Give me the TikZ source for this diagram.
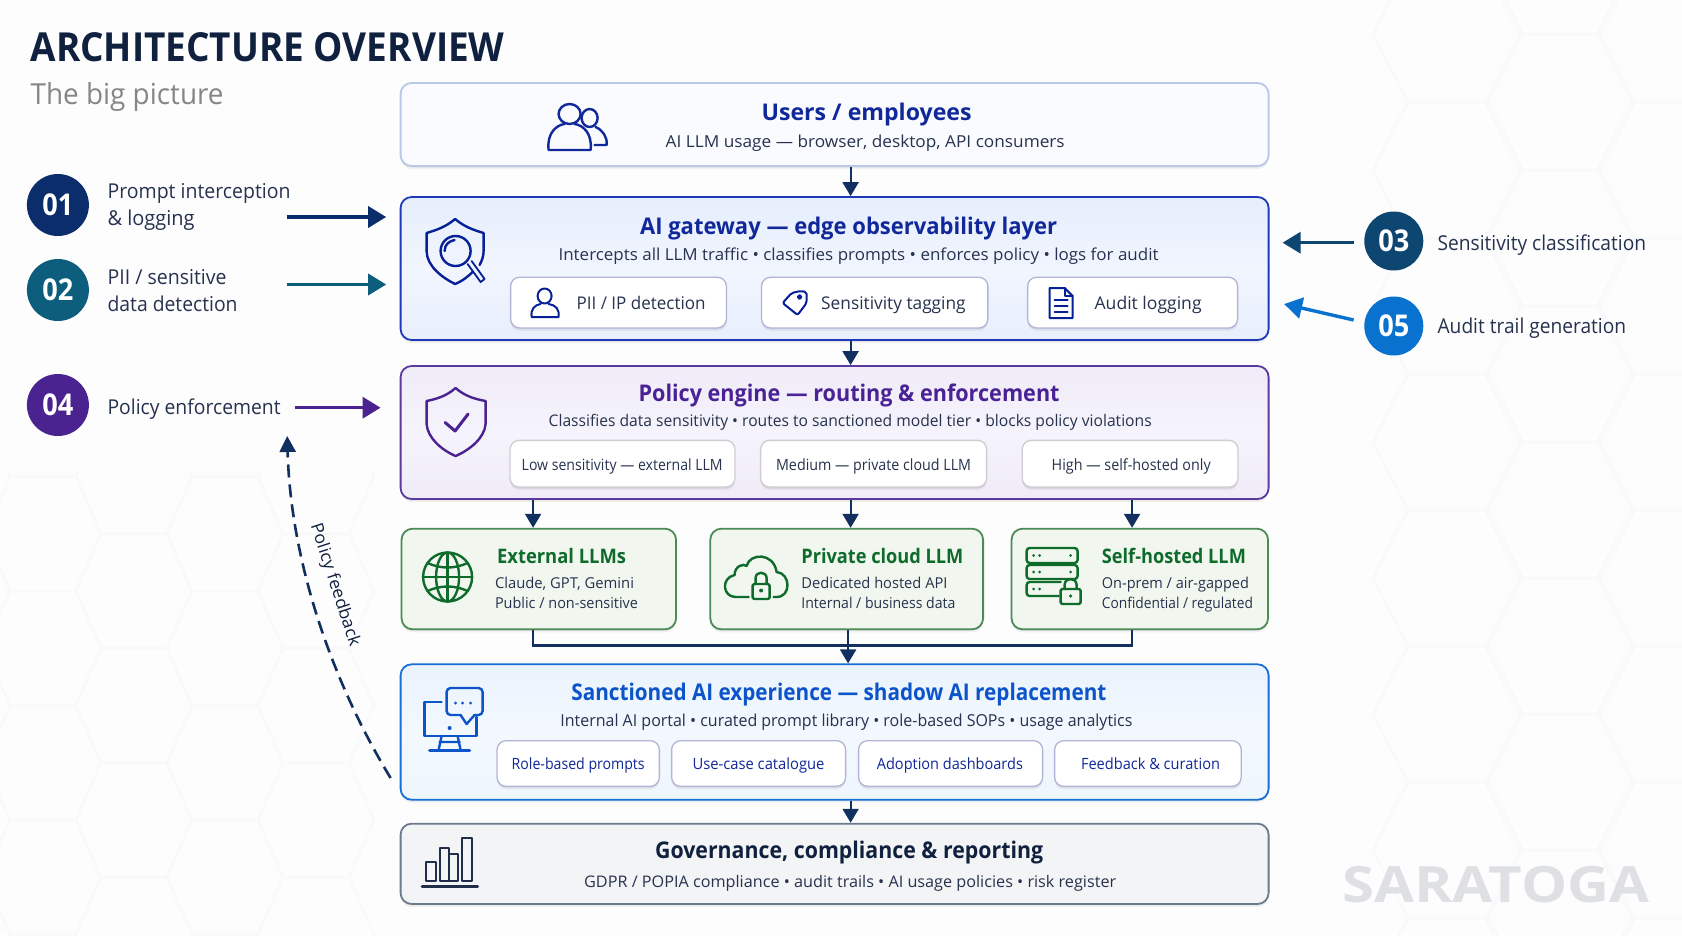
\documentclass[tikz,border=0pt]{standalone}
\usepackage{fontspec}
\usepackage{graphicx}
\setmainfont{Open Sans}
\usetikzlibrary{arrows.meta,calc}
\newcommand\fw[2]{\resizebox{#1pt}{\height}{#2}}
\newcommand\fs[1]{\fontsize{#1}{#1}\selectfont}
\definecolor{bgc}{HTML}{FDFDFE}
\definecolor{hexc}{HTML}{F8F9FB}
\definecolor{navy}{HTML}{12305F}
\definecolor{ttlblue}{HTML}{10289A}
\definecolor{ttlpur}{HTML}{4A2296}
\definecolor{ttlgrn}{HTML}{0E6B2C}
\definecolor{ttlsky}{HTML}{0B54C9}
\definecolor{ttlgov}{HTML}{10203F}
\definecolor{subt}{HTML}{26324E}
\definecolor{c1}{HTML}{0C2D6B}
\definecolor{c2}{HTML}{0C5E7C}
\definecolor{c3}{HTML}{0E4672}
\definecolor{c4}{HTML}{4A2391}
\definecolor{c5}{HTML}{0872CE}
\tikzset{
  softshadow/.style={preaction={fill=black,draw=none,opacity=.05,transform canvas={yshift=-3pt}},
                     preaction={fill=black,draw=none,opacity=.06,transform canvas={yshift=-1.5pt}}},
  panel/.style={rectangle,rounded corners=11pt,inner sep=0pt,line width=1.8pt,softshadow},
  subbox/.style={rectangle,rounded corners=9pt,inner sep=0pt,fill=white,draw=#1,line width=1.3pt,softshadow},
  tx/.style={inner sep=0pt,outer sep=0pt,text=subt},
  badge/.style={circle,inner sep=0pt,minimum size=#1,text=white,font=\fs{30}\bfseries},
  flow/.style={draw=navy,line width=2.2pt,-{Triangle[length=14pt,width=16pt]}},
  bus/.style={draw=navy,line width=2.4pt},
  side/.style={line width=3.4pt,-{Triangle[length=18pt,width=21pt]}},
  ico/.style={line width=2.4pt,line join=round,line cap=round},
}
\begin{document}
\begin{tikzpicture}[x=1pt,y=-1pt]
\useasboundingbox (0,0) rectangle (1682,935);
\fill[bgc] (0,0) rectangle (1682,935);
% faint hexagon background
\begin{scope}
\clip (1360,0) rectangle (1682,935);
\foreach \i in {0,1,2} \foreach \j in {-1,...,7} {
  \pgfmathsetmacro\cx{1448+112*\i}
  \pgfmathsetmacro\cy{170+136*\j+(mod(\i,2)==1?-68:0)}
  \draw[hexc,line width=2pt] (\cx-75,\cy) -- (\cx-40,\cy-68) -- (\cx+40,\cy-68) -- (\cx+75,\cy) -- (\cx+40,\cy+68) -- (\cx-40,\cy+68) -- cycle;
}
\end{scope}
\begin{scope}
\clip (0,470) rectangle (398,935);
\foreach \i in {0,1,2,3} \foreach \j in {-1,...,4} {
  \pgfmathsetmacro\cx{43+91*\i}
  \pgfmathsetmacro\cy{591+114.5*\j+(mod(\i,2)==0?-57.25:0)}
  \draw[hexc,line width=2pt] (\cx-58,\cy) -- (\cx-33,\cy-57.25) -- (\cx+33,\cy-57.25) -- (\cx+58,\cy) -- (\cx+33,\cy+57.25) -- (\cx-33,\cy+57.25) -- cycle;
}
\end{scope}
\begin{scope}[shift={(0.6,1)}]
% heading
\node[tx,anchor=base west,text=ttlgov,font=\fs{40}\bfseries] (ttl) at (30,60) {\fw{474}{ARCHITECTURE OVERVIEW}};
\node[tx,anchor=base west,text=gray!95,font=\fs{29}] (subttl) at (30,103) {\fw{193}{The big picture}};
% panels
\node[panel,draw={rgb,255:red,184;green,200;blue,230},fill={rgb,255:red,250;green,251;blue,254},minimum width=868pt,minimum height=83pt] (users) at (834,123.5) {};
\node[panel,draw={rgb,255:red,30;green,58;blue,184},top color={rgb,255:red,230;green,238;blue,252},bottom color={rgb,255:red,232;green,239;blue,252},middle color={rgb,255:red,241;green,245;blue,254},minimum width=868pt,minimum height=143pt] (gate) at (834,267.5) {};
\node[panel,draw={rgb,255:red,91;green,58;blue,158},top color={rgb,255:red,239;green,236;blue,248},bottom color={rgb,255:red,239;green,236;blue,248},middle color={rgb,255:red,245;green,243;blue,251},minimum width=868pt,minimum height=133pt] (pol) at (834,431.5) {};
\node[panel,draw={rgb,255:red,75;green,139;blue,87},fill={rgb,255:red,241;green,247;blue,238},minimum width=274.5pt,minimum height=100.6pt] (ext) at (538.2,578) {};
\node[panel,draw={rgb,255:red,75;green,139;blue,87},fill={rgb,255:red,241;green,247;blue,238},minimum width=272.8pt,minimum height=100.6pt] (priv) at (846.1,578) {};
\node[panel,draw={rgb,255:red,75;green,139;blue,87},fill={rgb,255:red,241;green,247;blue,238},minimum width=256.5pt,minimum height=100.6pt] (selfh) at (1139.2,578) {};
\node[panel,draw={rgb,255:red,26;green,111;blue,214},top color={rgb,255:red,234;green,243;blue,254},bottom color={rgb,255:red,238;green,246;blue,254},middle color={rgb,255:red,243;green,248;blue,254},minimum width=868pt,minimum height=135.4pt] (sanct) at (834,731) {};
\node[panel,draw={rgb,255:red,107;green,122;blue,140},fill={rgb,255:red,243;green,244;blue,246},minimum width=868pt,minimum height=80.3pt] (gov) at (834,862.8) {};
% sub boxes
\colorlet{sbl}{blue!30!gray!45!white}
\node[subbox=sbl,minimum width=215.8pt,minimum height=50.7pt] (s1) at (617.9,301.6) {};
\node[subbox=sbl,minimum width=226.3pt,minimum height=50.7pt] (s2) at (874.1,301.6) {};
\node[subbox=sbl,minimum width=210pt,minimum height=50.7pt] (s3) at (1132,301.6) {};
\colorlet{sbg}{violet!15!gray!35!white}
\node[subbox=sbg,minimum width=224.9pt,minimum height=46.7pt] (p1) at (621.9,462.7) {};
\node[subbox=sbg,minimum width=226pt,minimum height=46.7pt] (p2) at (873,462.7) {};
\node[subbox=sbg,minimum width=215.8pt,minimum height=46.7pt] (p3) at (1129.5,462.7) {};
\node[subbox=sbl,minimum width=162.3pt,minimum height=45.6pt] (r1) at (577.6,762.5) {};
\node[subbox=sbl,minimum width=174pt,minimum height=45.6pt] (r2) at (758,762.5) {};
\node[subbox=sbl,minimum width=184pt,minimum height=45.6pt] (r3) at (950,762.5) {};
\node[subbox=sbl,minimum width=186.6pt,minimum height=45.6pt] (r4) at (1147.3,762.5) {};
% panel texts
\node[tx,anchor=base,text=ttlblue,font=\fs{23}\bfseries] (t1) at (866,119) {\fw{210}{Users / employees}};
\node[tx,anchor=base,font=\fs{16.5}] (t1b) at (864.6,146.7) {\fw{399}{AI LLM usage — browser, desktop, API consumers}};
\node[tx,anchor=base,text=ttlblue,font=\fs{23}\bfseries] (t2) at (848,233) {\fw{417}{AI gateway — edge observability layer}};
\node[tx,anchor=base,font=\fs{16.5}] (t2b) at (858,259) {\fw{600}{Intercepts all LLM traffic • classifies prompts • enforces policy • logs for audit}};
\node[tx,anchor=base west,font=\fs{17.5}] (s1t) at (576,308) {\fw{129}{PII / IP detection}};
\node[tx,anchor=base west,font=\fs{17.5}] (s2t) at (820.6,308) {\fw{144.5}{Sensitivity tagging}};
\node[tx,anchor=base west,font=\fs{17.5}] (s3t) at (1094,308) {\fw{107}{Audit logging}};
\node[tx,anchor=base,text=ttlpur,font=\fs{23}\bfseries] (t3) at (848.5,400) {\fw{421}{Policy engine — routing \& enforcement}};
\node[tx,anchor=base,font=\fs{16}] (t3b) at (849.6,425) {\fw{603}{Classifies data sensitivity • routes to sanctioned model tier • blocks policy violations}};
\node[tx,anchor=base,font=\fs{15.5}] (p1t) at (621.6,469) {\fw{201}{Low sensitivity — external LLM}};
\node[tx,anchor=base,font=\fs{15.5}] (p2t) at (873,469) {\fw{195}{Medium — private cloud LLM}};
\node[tx,anchor=base,font=\fs{15.5}] (p3t) at (1130.6,469) {\fw{159}{High — self-hosted only}};
\node[tx,anchor=base west,text=ttlgrn,font=\fs{20}\bfseries] (e1) at (496.5,562) {\fw{129}{External LLMs}};
\node[tx,anchor=base west,font=\fs{15}] (e2) at (494.4,587) {\fw{139}{Claude, GPT, Gemini}};
\node[tx,anchor=base west,font=\fs{15}] (e3) at (494.4,607.7) {\fw{143}{Public / non-sensitive}};
\node[tx,anchor=base west,text=ttlgrn,font=\fs{20}\bfseries] (f1) at (800.8,562) {\fw{162}{Private cloud LLM}};
\node[tx,anchor=base west,font=\fs{15}] (f2) at (800.8,587) {\fw{146}{Dedicated hosted API}};
\node[tx,anchor=base west,font=\fs{15}] (f3) at (800.8,607.7) {\fw{154}{Internal / business data}};
\node[tx,anchor=base west,text=ttlgrn,font=\fs{20}\bfseries] (g1) at (1101.3,562) {\fw{144}{Self-hosted LLM}};
\node[tx,anchor=base west,font=\fs{15}] (g2) at (1101.3,587) {\fw{147}{On-prem / air-gapped}};
\node[tx,anchor=base west,font=\fs{15}] (g3) at (1101.3,607) {\fw{151}{Confidential / regulated}};
\node[tx,anchor=base,text=ttlsky,font=\fs{23}\bfseries] (t4) at (838.3,699) {\fw{535}{Sanctioned AI experience — shadow AI replacement}};
\node[tx,anchor=base,font=\fs{16.5}] (t4b) at (845.8,725.7) {\fw{572}{Internal AI portal • curated prompt library • role-based SOPs • usage analytics}};
\node[tx,anchor=base,text=ttlblue,font=\fs{15.5}] (r1t) at (577.6,768) {\fw{133}{Role-based prompts}};
\node[tx,anchor=base,text=ttlblue,font=\fs{15.5}] (r2t) at (757.9,768) {\fw{132}{Use-case catalogue}};
\node[tx,anchor=base,text=ttlblue,font=\fs{15.5}] (r3t) at (949.3,768) {\fw{146}{Adoption dashboards}};
\node[tx,anchor=base,text=ttlblue,font=\fs{15.5}] (r4t) at (1149.9,768) {\fw{139}{Feedback \& curation}};
\node[tx,anchor=base,text=ttlgov,font=\fs{23}\bfseries] (t5) at (848.5,857.3) {\fw{388}{Governance, compliance \& reporting}};
\node[tx,anchor=base,font=\fs{16}] (t5b) at (849.6,886.7) {\fw{532}{GDPR / POPIA compliance • audit trails • AI usage policies • risk register}};
\node[tx,anchor=base west,text={rgb,255:red,222;green,224;blue,227},font=\fs{50}\bfseries] (mark) at (1342,901) {\fw{307}{SARATOGA}};
% badges and labels
\node[badge=62pt,fill=c1] (b1) at (57.3,204) {\fw{31}{01}};
\node[badge=62pt,fill=c2] (b2) at (57.3,289) {\fw{31}{02}};
\node[badge=62pt,fill=c4] (b4) at (57.3,404) {\fw{31}{04}};
\node[badge=59pt,fill=c3] (b3) at (1393.2,240) {\fw{31}{03}};
\node[badge=59pt,fill=c5] (b5) at (1393.2,325) {\fw{31}{05}};
\node[tx,anchor=base west,font=\fs{20.5}] (l1a) at (107,197) {\fw{183}{Prompt interception}};
\node[tx,anchor=base west,font=\fs{20.5}] (l1b) at (107,224) {\fw{87}{\& logging}};
\node[tx,anchor=base west,font=\fs{20.5}] (l2a) at (107,283) {\fw{119}{PII / sensitive}};
\node[tx,anchor=base west,font=\fs{20.5}] (l2b) at (107,310) {\fw{130}{data detection}};
\node[tx,anchor=base west,font=\fs{20.5}] (l4) at (107,413) {\fw{173}{Policy enforcement}};
\node[tx,anchor=base west,font=\fs{20.5}] (l3) at (1437,249) {\fw{208.5}{Sensitivity classification}};
\node[tx,anchor=base west,font=\fs{20.5}] (l5) at (1437,332) {\fw{188.5}{Audit trail generation}};
% connectors
\coordinate (xa) at (532.5,0);
\coordinate (xb) at (850,0);
\coordinate (xc) at (1131.5,0);
\coordinate (busy) at (847.5,644.3);
\draw[flow] (users.south -| xb) -- (gate.north -| xb);
\draw[flow] (gate.south -| xb) -- (pol.north -| xb);
\draw[flow] (pol.south -| xa) -- (ext.north -| xa);
\draw[flow] (pol.south -| xb) -- (priv.north -| xb);
\draw[flow] (pol.south -| xc) -- (selfh.north -| xc);
\draw[bus] (ext.south -| xa) -- (xa |- busy) -- (xc |- busy) -- (selfh.south -| xc);
\draw[bus] (priv.south -| busy) -- (busy);
\draw[flow] (busy) -- (sanct.north -| busy);
\draw[flow] (sanct.south -| xb) -- (gov.north -| xb);
% side arrows
\coordinate (a1s) at (286,216); \coordinate (a1e) at (385.6,216);
\coordinate (a2s) at (286,283.5); \coordinate (a2e) at (385.6,283.5);
\coordinate (a4s) at (294.6,406.7); \coordinate (a4e) at (380,406.7);
\coordinate (a3s) at (1353,241.7); \coordinate (a3e) at (1282,241.7);
\coordinate (a5s) at (1353,319); \coordinate (a5e) at (1283.5,303);
\draw[side,c1] (a1s) -- (a1e);
\draw[side,c2] (a2s) -- (a2e);
\draw[side,c4] (a4s) -- (a4e);
\draw[side,c3] (a3s) -- (a3e);
\draw[side,c5] (a5s) -- (a5e);
% feedback
\coordinate (fbs) at (390,777); \coordinate (fbe) at (286.6,435);
\draw[navy,line width=2.6pt,dash pattern=on 13pt off 7pt,-{Triangle[length=16pt,width=16pt]}] (fbs) .. controls (331,680) and (290,560) .. (fbe);
\node[tx,anchor=center,rotate=-72,font=\fs{17},text=ttlgov] (fbl) at (334,584) {\fw{128}{Policy feedback}};
% icons: users
\begin{scope}[ico,draw=ttlblue]
\draw (569,113) ellipse (11 and 10);
\draw (564,123) .. controls (556,124) and (546,132) .. (548,149) -- (590,149) .. controls (592,132) and (582,124) .. (574,123);
\draw (589,117) ellipse (8 and 9);
\draw (595,126) .. controls (602,129) and (607,136) .. (606,144) -- (594,144);
\end{scope}
% gateway shield
\begin{scope}[ico,draw=c1!70!blue]
\draw (454.5,218) .. controls (445,226) and (436,229) .. (426,232) -- (426,250) .. controls (426,265) and (442,277) .. (454.5,283) .. controls (462,280) and (468,275) .. (472,271);
\draw (454.5,218) .. controls (464,226) and (473,229) .. (483,232) -- (483,250) .. controls (483,256) and (481,260) .. (479,264);
\draw (455,250) circle (15);
\draw (444,250) .. controls (444,243) and (449,240) .. (454,239);
\draw[line width=1.8pt] (467,263) -- (480,281) -- (484,278) -- (471,260);
\end{scope}
% policy shield
\begin{scope}[ico,draw=c4]
\draw (455,387) .. controls (446,395) and (436,398) .. (426,400) -- (426,423) .. controls (427,437) and (441,449) .. (455,455) .. controls (469,449) and (484,437) .. (485,423) -- (485,400) .. controls (474,398) and (464,395) .. (455,387) -- cycle;
\draw[line width=3pt] (444.5,421.5) -- (454.5,430) -- (467.5,413);
\end{scope}
% PII person
\begin{scope}[ico,draw=c1!70!blue,line width=2pt]
\draw (544,295) ellipse (7 and 7.5);
\draw (540,303) .. controls (534,304) and (530,308) .. (531,316) -- (558,316) .. controls (559,308) and (555,304) .. (548,303);
\end{scope}
% tag
\begin{scope}[ico,draw=c1!70!blue,line width=2pt]
\draw[rounded corners=2pt] (800,290) -- (806,291) -- (806,302) -- (797,314) -- (782,302) -- (791,292) -- cycle;
\draw (799,296) circle (1.8);
\end{scope}
% document
\begin{scope}[ico,draw=c1!70!blue,line width=2pt]
\draw (1049,287) -- (1064,287) -- (1072,295) -- (1072,317) -- (1049,317) -- cycle;
\draw (1064,287) -- (1064,295) -- (1072,295);
\draw (1054,299) -- (1067,299) (1054,305) -- (1067,305) (1054,311) -- (1067,311);
\end{scope}
% globe
\begin{scope}[ico,draw=ttlgrn]
\draw (447,576) circle (24.5);
\draw (447,576) ellipse (11.5 and 24.5);
\draw (447,551.5) -- (447,600.5) (422.5,576) -- (471.5,576);
\draw (427,562) .. controls (440,568) and (454,568) .. (467,562);
\draw (427,590) .. controls (440,584) and (454,584) .. (467,590);
\end{scope}
% cloud + lock
\begin{scope}[ico,draw=ttlgrn]
\draw (748,596) -- (735,596) .. controls (722,596) and (720,577) .. (734,574) .. controls (734,565) and (743,562) .. (746,565) .. controls (749,552) and (773,551) .. (776,571) .. controls (790,572) and (791,596) .. (776,596) -- (773,596);
\draw[rounded corners=1.5pt] (752,583) rectangle (769,598);
\draw (755,583) -- (755,577) .. controls (755,570) and (766,570) .. (766,577) -- (766,583);
\fill[ttlgrn] (760.5,589.5) circle (2);
\end{scope}
% server + lock
\begin{scope}[ico,draw=ttlgrn]
\draw[rounded corners=3pt] (1026,547) rectangle (1077,562);
\draw[rounded corners=3pt] (1026,564) rectangle (1077,578);
\draw[rounded corners=3pt] (1060,581) -- (1026,581) -- (1026,595) -- (1058,595);
\foreach \yy in {554.5,571,588} { \fill[ttlgrn] (1033,\yy) circle (1.5) (1039,\yy) circle (1.5); }
\fill[ttlgrn] (1070,554.5) circle (1.5) (1070,571) circle (1.5);
\draw[rounded corners=1.5pt] (1060,588) rectangle (1080,603);
\draw (1064,588) -- (1064,584) .. controls (1064,576) and (1076,576) .. (1076,584) -- (1076,588);
\fill[ttlgrn] (1070,595) circle (1.8);
\end{scope}
% monitor + chat
\begin{scope}[ico,draw=ttlsky]
\draw (441,701) -- (424,701) -- (424,735) -- (476,735) -- (476,716);
\draw (441,735) -- (438,749) (457,735) -- (460,749) (439,741) -- (459,741);
\draw[line width=3pt] (429,749) -- (469,749);
\fill[ttlsky] (449,727) circle (2);
\draw[rounded corners=4pt] (460,714) -- (446,714) -- (446,687) -- (482,687) -- (482,714) -- (474,714);
\draw (460,714) -- (466,723) -- (474,714);
\fill[ttlsky] (455,702) circle (1.6) (462,702) circle (1.6) (470,702) circle (1.6);
\end{scope}
% bars
\begin{scope}[ico,draw=ttlgov!85!gray,line width=2pt]
\draw (425,880) rectangle (435,861);
\draw (439,880) rectangle (448,847);
\draw (448,880) -- (457,880) -- (457,853) -- (450,853);
\draw (461,880) rectangle (471,837);
\draw[line width=3pt] (421.5,885.7) -- (477,885.7);
\end{scope}
\end{scope}
\end{tikzpicture}
\end{document}
